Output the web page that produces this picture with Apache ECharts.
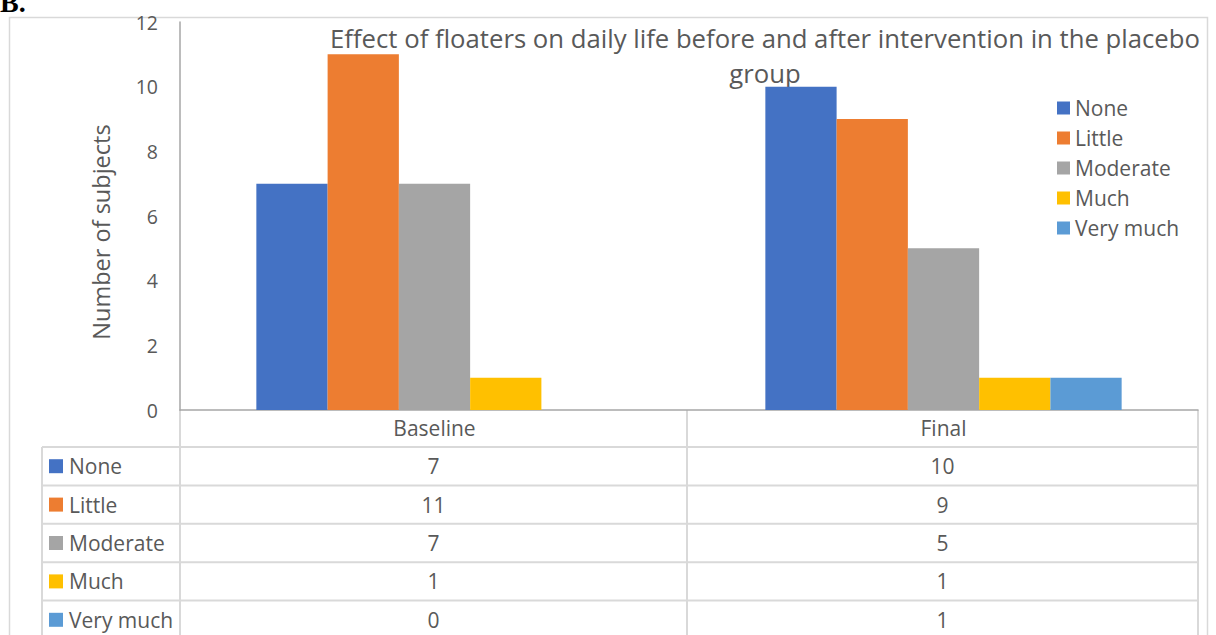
<!DOCTYPE html>
<html>
<head>
<meta charset="utf-8">
<script src="https://cdn.jsdelivr.net/npm/echarts@6/dist/echarts.min.js"></script>
<style>
html,body{margin:0;padding:0;background:#fff;}
#chart{width:1216px;height:635px;}
</style>
</head>
<body>
<div id="chart"></div>
<script>
const categories = ['Baseline', 'Final'];
const seriesNames = ['None', 'Little', 'Moderate', 'Much', 'Very much'];
const none = [7, 10];
const little = [11, 9];
const moderate = [7, 5];
const much = [1, 1];
const veryMuch = [0, 1];
const yTicks = [0, 2, 4, 6, 8, 10, 12];
const titleText = 'Effect of floaters on daily life before and after intervention in the placebo\ngroup';
const yAxisTitle = 'Number of subjects';
const panelLabel = 'B.';

const seriesValues = [none, little, moderate, much, veryMuch];
const colors = ['#4472C4', '#ED7D31', '#A5A5A5', '#FFC000', '#5B9BD5'];
const FONT = '"Open Sans", "Liberation Sans", Arial, sans-serif';
const TXT = '#595959';
const FS = 21;

const chart = echarts.init(document.getElementById('chart'), null, {renderer: 'svg'});

// layout constants
const gridLeft = 180, gridRight = 1198, gridTop = 22, gridBottom = 410;
const tableLeft = 42;
const headerBottom = 447;
const rowH = 38.4;
const colCenters = [433.5, 942.5];

const graphics = [];
// outer chart border
graphics.push({type: 'rect', shape: {x: 9.5, y: 17.5, width: 1198, height: 640},
  style: {fill: null, stroke: '#d9d9d9', lineWidth: 1.5}, silent: true, z: 0});
// panel label (cut at top, as in the source figure)
graphics.push({type: 'text', left: 0, top: -12,
  style: {text: panelLabel, font: 'bold 28px "Liberation Serif", serif', fill: '#000'}});
// title
graphics.push({type: 'text', x: 765, y: 21,
  style: {text: titleText, font: '25.7px ' + FONT, fill: TXT, textAlign: 'center', lineHeight: 35}});
// y-axis title
graphics.push({type: 'text', x: 101, y: 232, rotation: Math.PI / 2,
  style: {text: yAxisTitle, font: '23.5px ' + FONT, fill: TXT, textAlign: 'center', textVerticalAlign: 'middle', textBaseline: 'middle'}});
// table vertical lines
[[tableLeft, headerBottom], [gridLeft, gridBottom], [687, gridBottom], [gridRight, gridBottom]].forEach(([x, y0]) => {
  graphics.push({type: 'line', shape: {x1: x, y1: y0, x2: x, y2: 640},
    style: {stroke: '#d9d9d9', lineWidth: 2}, silent: true});
});
// table horizontal lines
for (let i = 0; i < seriesNames.length; i++) {
  const y = headerBottom + i * rowH;
  graphics.push({type: 'line', shape: {x1: tableLeft, y1: y, x2: gridRight, y2: y},
    style: {stroke: '#d9d9d9', lineWidth: 2}, silent: true});
}
// table rows: legend key + name + values
seriesNames.forEach((name, i) => {
  const cy = headerBottom + i * rowH + rowH / 2;
  graphics.push({type: 'rect', shape: {x: 49, y: cy - 7, width: 14, height: 14},
    style: {fill: colors[i]}, silent: true});
  graphics.push({type: 'text', x: 69, y: cy,
    style: {text: name, font: FS + 'px ' + FONT, fill: TXT, textVerticalAlign: 'middle', textBaseline: 'middle'}});
  seriesValues[i].forEach((v, j) => {
    graphics.push({type: 'text', x: colCenters[j], y: cy,
      style: {text: String(v), font: FS + 'px ' + FONT, fill: TXT, textAlign: 'center', textVerticalAlign: 'middle', textBaseline: 'middle'}});
  });
});

const option = {
  animation: false,
  backgroundColor: '#fff',
  textStyle: {fontFamily: FONT},
  grid: {left: gridLeft, right: 1216 - gridRight, top: gridTop, bottom: 635 - gridBottom, containLabel: false},
  legend: {
    orient: 'vertical', left: 1052, top: 92,
    itemWidth: 13, itemHeight: 13, itemGap: 8,
    icon: 'rect',
    textStyle: {fontSize: FS, color: TXT, lineHeight: 22, fontFamily: FONT},
    data: seriesNames
  },
  xAxis: {
    type: 'category', data: categories,
    axisLine: {lineStyle: {color: '#a6a6a6', width: 1.5}},
    axisTick: {show: false},
    axisLabel: {fontSize: FS, color: TXT, margin: 7, fontFamily: FONT}
  },
  yAxis: {
    type: 'value', min: yTicks[0], max: yTicks[yTicks.length - 1], interval: yTicks[1] - yTicks[0],
    axisLine: {show: true, lineStyle: {color: '#a6a6a6', width: 1.5}},
    axisTick: {show: false},
    splitLine: {show: false},
    axisLabel: {fontSize: 19.5, color: TXT, margin: 22, fontFamily: FONT}
  },
  series: seriesNames.map((n, i) => ({
    name: n, type: 'bar', data: seriesValues[i],
    itemStyle: {color: colors[i]},
    barGap: '0%', barCategoryGap: '30%'
  })),
  graphic: graphics
};
chart.setOption(option);
</script>
</body>
</html>
